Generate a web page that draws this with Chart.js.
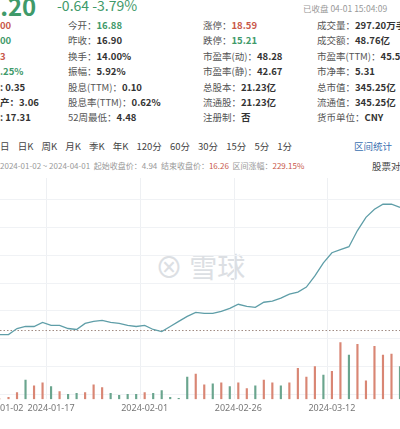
<!DOCTYPE html>
<html><head><meta charset="utf-8">
<script src="https://cdn.jsdelivr.net/npm/chart.js@4"></script>
<style>
body{margin:0;width:400px;height:429px;overflow:hidden;background:#fff;font-family:"Noto Sans CJK SC","Noto Sans",sans-serif;color:#333;position:relative}
.t{position:absolute;font-size:9.5px;white-space:nowrap}
.b{font-weight:bold}
.r{color:#c9584a}.g{color:#3f9a6a}.gr{color:#999}
#wrap{position:absolute;left:-40px;top:178px;width:480px;height:240px}
</style></head><body>
<div class="t g" style="left:-14px;top:-12px;font-size:24px;font-weight:bold">9.20</div>
<div class="t g" style="left:57px;top:-5px;font-size:14px">-0.64 -3.79%</div>
<div class="t gr" style="left:303px;top:2px;font-size:8.5px">已收盘 04-01 15:04:09</div>
<div id="info"></div>
<div class="t" style="left:0;top:139px;font-size:9.5px;color:#444;word-spacing:6px">日 日K 周K 月K 季K 年K 120分 60分 30分 15分 5分 1分</div>
<div class="t" style="left:354px;top:139px;color:#3a6fb0">区间统计</div>
<div class="t gr" style="left:0;top:160px;font-size:8px">2024-01-02 ~ 2024-04-01 &nbsp;起始收盘价：4.94 &nbsp;结束收盘价：<span class="r">16.26</span> &nbsp;区间涨幅：<span class="r">229.15%</span></div>
<div class="t" style="left:372px;top:159px;font-size:9.5px;color:#444">股票对</div>
<div class="t" style="left:155px;top:246px;font-size:28px;color:#d4d8dd;opacity:.8">⊗ 雪球</div>
<div id="wrap"><canvas id="c"></canvas></div>
<script>
const infoRows=[
 [["00","r",""],["今开：","16.88","g"],["涨停：","18.59","r"],["成交量：","297.20万手",""]],
 [["00","g",""],["昨收：","16.90",""],["跌停：","15.21","g"],["成交额：","48.76亿",""]],
 [["3","r",""],["换手：","14.00%",""],["市盈率(动)：","48.28",""],["市盈率(TTM)：","45.5",""]],
 [[".25%","g",""],["振幅：","5.92%",""],["市盈率(静)：","42.67",""],["市净率：","5.31",""]],
 [[": 0.35","",""],["股息(TTM)：","0.10",""],["总股本：","21.23亿",""],["总市值：","345.25亿",""]],
 [["产：3.06","",""],["股息率(TTM)：","0.62%",""],["流通股：","21.23亿",""],["流通值：","345.25亿",""]],
 [[": 17.31","",""],["52周最低：","4.48",""],["注册制：","否",""],["货币单位：","CNY",""]]
];
const colX=[0,68,203,317];
let h='';
infoRows.forEach((row,ri)=>{const y=18+ri*15.4;row.forEach((c,ci)=>{
 if(ci===0){h+=`<div class="t b ${c[1]}" style="left:0;top:${y}px">${c[0]}</div>`;}
 else h+=`<div class="t" style="left:${colX[ci]}px;top:${y}px"><span style="color:#555">${c[0]}</span><span class="b ${c[2]}">${c[1]}</span></div>`;
});});
document.getElementById('info').innerHTML=h;

const startClose=4.94;
const dates=["2024-01-02","","","","","","2024-01-17","","","","","","","","","","","2024-02-01","","","","","","","","","","","2024-02-26","","","","","","","","","","","2024-03-12","","","","","","","",""];
const prices=[4.62,4.62,5.10,5.26,5.26,5.58,5.34,5.34,5.10,5.02,5.50,5.66,5.74,5.58,5.50,5.34,5.26,5.34,5.02,4.86,5.26,5.66,6.06,6.38,6.30,6.30,6.46,6.70,7.02,6.86,6.78,7.18,7.26,7.50,7.82,7.98,8.38,9.26,10.30,11.10,11.34,11.58,12.86,13.90,14.54,14.94,14.94,14.70];
const volumes=[0,2,7,20,14,17,13,8,5,6,7,15,12,6,4,5,5,7,6,9,2,1,23,26,15,16,17,13,17,11,14,20,17,14,17,32,23,34,25,29,59,46,57,19,55,46,47,34];
const upDown=[1,1,1,0,1,1,0,1,0,0,1,1,1,0,0,0,0,1,0,0,0,0,0,1,1,0,1,0,1,1,0,1,1,0,1,1,1,1,0,1,1,0,1,1,1,1,1,0];
const RED='#d98674',GREEN='#6aa58e';
new Chart(document.getElementById('c'),{
 data:{labels:dates,datasets:[
  {type:'line',data:prices,borderColor:'#5f9ea8',borderWidth:1.3,pointRadius:0,tension:0,yAxisID:'y',order:1},
  {type:'line',data:dates.map(()=>startClose),borderColor:'#a08a80',borderWidth:1,borderDash:[1.5,2],pointRadius:0,yAxisID:'y',order:2},
  {type:'bar',data:volumes,backgroundColor:upDown.map(u=>u?RED:GREEN),barThickness:1.5,yAxisID:'v',order:3}
 ]},
 options:{responsive:true,maintainAspectRatio:false,animation:false,
  plugins:{legend:{display:false},tooltip:{enabled:false}},
  layout:{padding:{left:40,right:40,top:0,bottom:0}},
  scales:{
   x:{offset:false,border:{display:false},
      grid:{color:c=>dates[c.index]?'#eef0f3':'rgba(0,0,0,0)',drawTicks:false},
      ticks:{autoSkip:false,maxRotation:0,padding:4,color:'#777',font:{size:9,family:'Noto Sans'},callback:(v,i)=>dates[i]}},
   y:{display:true,min:-0.5,max:17.02,position:'left',border:{display:false},
      ticks:{display:false},afterBuildTicks:s=>{s.ticks=[];for(let p=15.3;p>-1;p-=2.2)s.ticks.push({value:p});},
      grid:{color:'#f0f2f5',drawTicks:false}},
   v:{display:false,min:0,max:230}
  }}
});
</script></body></html>
